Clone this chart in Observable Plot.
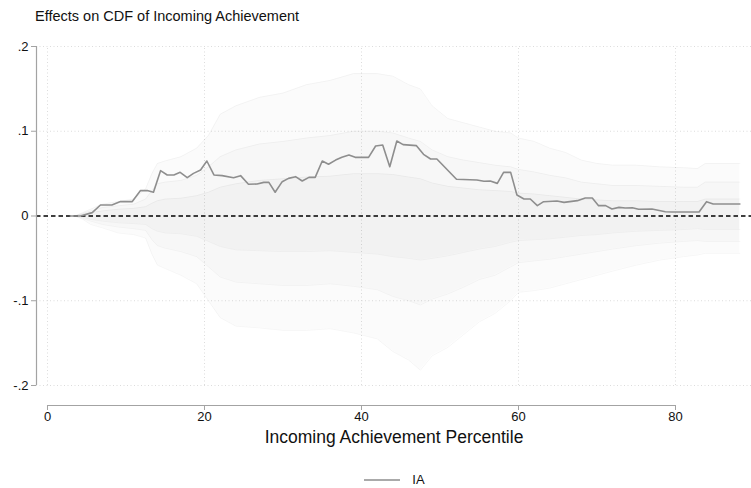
<!DOCTYPE html>
<html>
<head>
<meta charset="utf-8">
<script src="https://cdn.jsdelivr.net/npm/d3@7"></script>
<script src="https://cdn.jsdelivr.net/npm/@observablehq/plot@0.6"></script>
<style>
  html, body { margin: 0; padding: 0; background: #fff; }
  body { width: 751px; height: 488px; overflow: hidden; font-family: "Liberation Sans", Arial, sans-serif; }
  #title { height: 30px; line-height: 32px; padding-left: 35px; font-size: 14.5px; color: #111; box-sizing: border-box; }
  #chart svg { display: block; }
  #legend { height: 30px; box-sizing: border-box; padding-top: 14px; padding-left: 38px; display: flex; justify-content: center; align-items: center; font-size: 13px; color: #111; }
  #legend span { margin-left: 12px; line-height: 16px; }
</style>
</head>
<body>
<div id="title">Effects on CDF of Incoming Achievement</div>
<div id="chart"></div>
<div id="legend"></div>
<script>
// ---- Data ----
const xTicks = [0, 20, 40, 60, 80];
const yTicks = [0.2, 0.1, 0, -0.1, -0.2];
const yTickLabels = [".2", ".1", "0", "-.1", "-.2"];
const xTitle = "Incoming Achievement Percentile";
const seriesName = "IA";

// Main estimate (IA)
const iaX = [2.9, 4.2, 5.7, 6.75, 8.2, 9.3, 10.8, 11.85, 12.7, 13.5, 14.4, 15.25, 16.1, 16.9, 17.8, 18.6, 19.5, 20.3,
  21.2, 22.25, 23.7, 24.6, 25.6, 26.7, 27.55, 28.2, 29.0, 29.9, 30.7, 31.6, 32.45, 33.3, 34.1, 35.0, 35.8, 36.7,
  37.5, 38.4, 39.2, 40.9, 41.8, 42.7, 43.6, 44.5, 45.3, 47.0, 47.9, 48.8, 49.6, 52.1, 54.7, 55.6, 56.4, 57.3, 58.1,
  59.0, 59.8, 60.7, 61.5, 62.4, 63.2, 64.9, 65.8, 67.5, 68.5, 69.4, 70.2, 71.1, 71.9, 72.8, 73.6, 74.5, 75.3, 77.0,
  78.7, 79.6, 83.0, 83.95, 84.8, 88.2];
const iaY = [0, 0, 0.004, 0.013, 0.013, 0.017, 0.017, 0.03, 0.03, 0.028, 0.0535, 0.0484, 0.0484, 0.0515, 0.0452, 0.0503, 0.0543, 0.0649,
  0.0484, 0.0476, 0.0452, 0.0476, 0.0374, 0.0378, 0.0397, 0.0397, 0.028, 0.0405, 0.0444, 0.0464, 0.0413, 0.0456, 0.0456, 0.0649, 0.061, 0.066,
  0.0692, 0.072, 0.0692, 0.0692, 0.0826, 0.0838, 0.0582, 0.0885, 0.0842, 0.083, 0.0728, 0.0673, 0.0673, 0.0433, 0.0425, 0.041, 0.0413, 0.0385, 0.0515,
  0.0515, 0.0248, 0.0201, 0.0201, 0.0122, 0.0169, 0.0177, 0.0161, 0.0181, 0.0212, 0.0212, 0.0122, 0.0122, 0.0083, 0.0102, 0.0094, 0.0098, 0.0079, 0.0083,
  0.0051, 0.0047, 0.0047, 0.0169, 0.0142, 0.0142];

// Envelope of the faint placebo lines (outer, middle and inner spread)
const bandX = [3.5, 4.5, 5.5, 7, 9, 11, 12.5, 13.3, 14, 15, 17, 19, 20.5, 22, 24, 27, 30, 33, 36, 39, 42, 44, 46, 47.5,
  49, 51, 53, 55, 57, 59, 60, 62, 64, 66, 68, 70, 72, 75, 78, 81, 82.8, 83.8, 88.2];
const outerHi = [0, 0.004, 0.008, 0.014, 0.017, 0.02, 0.032, 0.05, 0.062, 0.065, 0.07, 0.08, 0.095, 0.12, 0.13, 0.14, 0.145, 0.155, 0.16, 0.168, 0.168, 0.165, 0.155, 0.15,
  0.13, 0.115, 0.11, 0.105, 0.1, 0.098, 0.092, 0.088, 0.08, 0.075, 0.066, 0.062, 0.06, 0.06, 0.058, 0.057, 0.056, 0.062, 0.062];
const outerLo = [0, -0.004, -0.01, -0.014, -0.02, -0.022, -0.026, -0.045, -0.058, -0.062, -0.07, -0.08, -0.1, -0.12, -0.13, -0.132, -0.135, -0.135, -0.133, -0.138, -0.145, -0.16, -0.17, -0.182,
  -0.165, -0.155, -0.14, -0.125, -0.115, -0.1, -0.09, -0.088, -0.085, -0.08, -0.075, -0.07, -0.065, -0.058, -0.052, -0.048, -0.046, -0.044, -0.044];
const midHi = [0, 0.003, 0.006, 0.01, 0.012, 0.014, 0.02, 0.03, 0.038, 0.04, 0.042, 0.048, 0.058, 0.07, 0.078, 0.085, 0.088, 0.092, 0.095, 0.1, 0.1, 0.098, 0.092, 0.088,
  0.078, 0.07, 0.066, 0.063, 0.06, 0.058, 0.055, 0.052, 0.048, 0.045, 0.04, 0.038, 0.036, 0.036, 0.035, 0.034, 0.034, 0.04, 0.04];
const midLo = [0, -0.003, -0.006, -0.01, -0.013, -0.015, -0.017, -0.028, -0.035, -0.038, -0.042, -0.048, -0.06, -0.072, -0.078, -0.08, -0.082, -0.082, -0.08, -0.083, -0.087, -0.095, -0.1, -0.105,
  -0.098, -0.092, -0.084, -0.075, -0.07, -0.06, -0.055, -0.053, -0.051, -0.048, -0.045, -0.042, -0.039, -0.035, -0.032, -0.03, -0.029, -0.03, -0.03];
const innerHi = [0, 0.002, 0.004, 0.006, 0.008, 0.009, 0.011, 0.015, 0.018, 0.02, 0.021, 0.024, 0.028, 0.034, 0.038, 0.042, 0.044, 0.046, 0.047, 0.05, 0.05, 0.049, 0.046, 0.044,
  0.039, 0.035, 0.033, 0.031, 0.03, 0.029, 0.027, 0.026, 0.024, 0.022, 0.02, 0.019, 0.018, 0.018, 0.017, 0.017, 0.017, 0.02, 0.02];
const innerLo = [0, -0.002, -0.004, -0.006, -0.008, -0.009, -0.01, -0.015, -0.018, -0.02, -0.021, -0.024, -0.03, -0.036, -0.04, -0.041, -0.042, -0.042, -0.041, -0.043, -0.045, -0.048, -0.05, -0.052,
  -0.05, -0.047, -0.043, -0.039, -0.036, -0.031, -0.029, -0.028, -0.027, -0.025, -0.023, -0.022, -0.02, -0.018, -0.017, -0.016, -0.015, -0.016, -0.016];

// ---- Build tables ----
const ia = iaX.map((x, i) => ({x, y: iaY[i]}));
const bands = bandX.map((x, i) => ({
  x, oHi: outerHi[i], oLo: outerLo[i], mHi: midHi[i], mLo: midLo[i], iHi: innerHi[i], iLo: innerLo[i]
}));
const edgeKeys = ["oHi", "oLo", "mHi", "mLo", "iHi", "iLo"];

const axisColor = "#a3a3a3";
const lineColor = "#8e8e8e";
const gridColor = "#dcdcdc";
const xDomain = [-1.4, 89.68];
const yDomain = [-0.2236, 0.2];
const yMin = d3.min(yTicks), yMax = d3.max(yTicks);

const chart = Plot.plot({
  width: 751,
  height: 428,
  marginLeft: 36,
  marginRight: 0,
  marginTop: 16,
  marginBottom: 53,
  x: {domain: xDomain, axis: null},
  y: {domain: yDomain, axis: null},
  style: {fontFamily: "'Liberation Sans', Arial, sans-serif", background: "#fff", color: "#111"},
  marks: [
    // grid
    Plot.ruleY(yTicks.filter(d => d !== 0), {stroke: gridColor, strokeDasharray: "1,2.5", strokeWidth: 1}),
    Plot.ruleX(xTicks, {y1: yMin, y2: yMax, stroke: gridColor, strokeDasharray: "1,2.5", strokeWidth: 1}),
    // placebo haze
    Plot.areaY(bands, {x: "x", y1: "oLo", y2: "oHi", fill: "#000", fillOpacity: 0.014}),
    Plot.areaY(bands, {x: "x", y1: "mLo", y2: "mHi", fill: "#000", fillOpacity: 0.016}),
    Plot.areaY(bands, {x: "x", y1: "iLo", y2: "iHi", fill: "#000", fillOpacity: 0.018}),
    ...edgeKeys.map(k => Plot.line(bands, {x: "x", y: k, stroke: "#000", strokeOpacity: 0.035, strokeWidth: 1})),
    // zero reference
    Plot.ruleY([0], {stroke: "#000", strokeDasharray: "4.5,3", strokeWidth: 1.3}),
    // main estimate
    Plot.line(ia, {x: "x", y: "y", stroke: lineColor, strokeWidth: 1.6}),
    // axes
    Plot.ruleX([xDomain[0]], {y1: yMin, y2: yMax, stroke: axisColor, strokeWidth: 1.2}),
    Plot.ruleY([yDomain[0]], {x1: xTicks[0], x2: xTicks[xTicks.length - 1], stroke: axisColor, strokeWidth: 1.2}),
    Plot.axisY({ticks: yTicks, tickSize: 5, tickPadding: 3, tickFormat: d => yTickLabels[yTicks.indexOf(d)],
      stroke: axisColor, fill: "#111", fontSize: 13, label: null}),
    Plot.axisX({ticks: xTicks, tickSize: 5, tickPadding: 1, tickFormat: d => String(d),
      stroke: axisColor, fill: "#111", fontSize: 13, label: null}),
    Plot.text([xTitle], {frameAnchor: "bottom", dy: 37, fontSize: 17.5, fill: "#111", text: d => d})
  ]
});
document.getElementById("chart").appendChild(chart);

// legend
const legend = document.getElementById("legend");
legend.innerHTML = `<svg width="36" height="10"><line x1="0" y1="5" x2="36" y2="5" stroke="${lineColor}" stroke-width="1.6"/></svg><span>${seriesName}</span>`;
</script>
</body>
</html>
